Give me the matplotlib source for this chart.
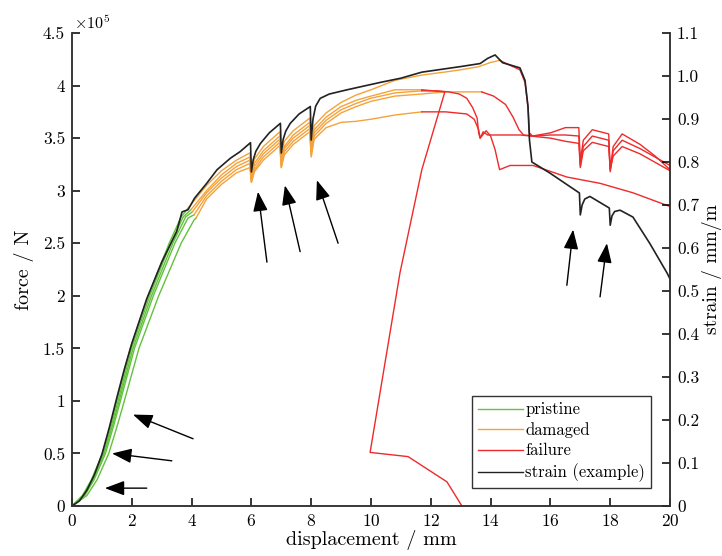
import matplotlib
matplotlib.use("Agg")
import matplotlib.pyplot as plt
from matplotlib.lines import Line2D
from matplotlib.ticker import FuncFormatter, MultipleLocator

plt.rcParams['font.family'] = 'cmr10'
plt.rcParams['mathtext.fontset'] = 'cm'
plt.rcParams['axes.formatter.use_mathtext'] = True

# colours
c_green = '#62c23e'
c_orange = '#f5a23a'
c_red = '#ee2a2a'
c_black = '#222222'

# pristine (force in 1e5 N)
g1_x = [0, 0.35, 0.65, 1.02, 1.27, 1.5, 1.95, 2.55, 3.25, 3.65, 3.9]
g1_f = [0, 0.1, 0.25, 0.5, 0.75, 1.0, 1.5, 2.0, 2.5, 2.75, 2.84]
g2_x = [0, 0.37, 0.68, 1.05, 1.3, 1.54, 1.99, 2.6, 3.3, 3.72, 3.98]
g2_f = [0, 0.1, 0.25, 0.5, 0.75, 1.0, 1.5, 2.0, 2.5, 2.75, 2.82]
g3_x = [0, 0.4, 0.71, 1.08, 1.34, 1.58, 2.04, 2.66, 3.37, 3.8, 4.03]
g3_f = [0, 0.1, 0.25, 0.5, 0.75, 1.0, 1.5, 2.0, 2.5, 2.75, 2.80]
g4_x = [0, 0.43, 0.74, 1.12, 1.38, 1.62, 2.09, 2.72, 3.44, 3.88, 4.08]
g4_f = [0, 0.1, 0.25, 0.5, 0.75, 1.0, 1.5, 2.0, 2.5, 2.74, 2.77]
g5_x = [0, 0.5, 0.84, 1.23, 1.5, 1.75, 2.24, 2.9, 3.65, 4.08, 4.15]
g5_f = [0, 0.1, 0.25, 0.5, 0.75, 1.0, 1.5, 2.0, 2.5, 2.72, 2.74]

# damaged
dmg_x = [4.5, 5.0, 5.5, 5.95, 6.0, 6.1, 6.4, 6.95, 7.0, 7.1, 7.4, 7.95, 8.0, 8.1,
         8.5, 9.0, 9.5, 10.0, 10.8, 11.7]
dmg_e = [3.05, 3.19, 3.29, 3.36, 3.15, 3.30, 3.42, 3.56, 3.30, 3.47, 3.57, 3.69, 3.42, 3.62,
         3.74, 3.84, 3.91, 3.96, 4.05, 4.10]
dmg_a = [3.00, 3.15, 3.26, 3.32, 3.10, 3.26, 3.38, 3.52, 3.26, 3.42, 3.53, 3.65, 3.38, 3.58,
         3.70, 3.80, 3.86, 3.90, 3.96, 3.96]
dmg_b = [2.98, 3.12, 3.23, 3.29, 3.10, 3.23, 3.35, 3.49, 3.24, 3.40, 3.50, 3.62, 3.36, 3.55,
         3.67, 3.77, 3.83, 3.88, 3.93, 3.95]
dmg_c = [2.95, 3.09, 3.20, 3.26, 3.08, 3.20, 3.32, 3.46, 3.22, 3.37, 3.47, 3.59, 3.34, 3.52,
         3.64, 3.74, 3.80, 3.85, 3.90, 3.92]
dmg_d = [2.92, 3.06, 3.17, 3.22, 3.08, 3.18, 3.29, 3.43, 3.22, 3.34, 3.44, 3.56, 3.32, 3.49,
         3.60, 3.65, 3.66, 3.68, 3.72, 3.75]
dmg_e_tail_x = [12.5, 13.0, 13.6, 14.0, 14.3]
dmg_e_tail_f = [4.13, 4.15, 4.18, 4.22, 4.24]
dmg_c_tail_x = [12.5, 13.0, 13.7]
dmg_c_tail_f = [3.94, 3.94, 3.94]

# failure
fail_e_x = [14.3, 14.6, 14.98, 15.15, 15.25, 15.3, 15.4, 16.0, 16.5, 16.95, 17.0, 17.1, 17.4,
            17.95, 18.0, 18.1, 18.4, 19.0, 19.5, 20.0]
fail_e_f = [4.24, 4.2, 4.15, 4.03, 3.8, 3.55, 3.52, 3.55, 3.6, 3.6, 3.28, 3.48, 3.58,
            3.54, 3.2, 3.42, 3.54, 3.44, 3.33, 3.2]
fail_c_x = [13.7, 14.1, 14.5, 14.75, 14.95, 15.1, 15.5, 16.0, 16.5, 16.95, 17.0, 17.1, 17.4,
            17.95, 18.0, 18.1, 18.4, 19.0, 19.5, 20.0]
fail_c_f = [3.94, 3.9, 3.82, 3.7, 3.58, 3.53, 3.52, 3.53, 3.53, 3.52, 3.24, 3.42, 3.52,
            3.48, 3.18, 3.38, 3.48, 3.4, 3.32, 3.24]
fail_d_x = [11.7, 12.5, 13.2, 13.45, 13.6, 13.65, 13.75, 13.9, 14.2, 15.0, 16.0, 16.5, 16.95,
            17.0, 17.1, 17.4, 17.95, 18.0, 18.1, 18.4, 19.0, 19.5, 20.0]
fail_d_f = [3.75, 3.75, 3.73, 3.68, 3.58, 3.5, 3.56, 3.53, 3.53, 3.53, 3.5, 3.47, 3.45,
            3.22, 3.38, 3.46, 3.42, 3.2, 3.33, 3.42, 3.35, 3.27, 3.19]
fail_b_x = [11.7, 12.2, 12.6, 12.95, 13.2, 13.4, 13.55, 13.6, 13.65, 13.85, 14.0, 14.15, 14.3,
            14.65, 15.42, 16.55, 17.66, 18.76, 19.9, 20.0]
fail_b_f = [3.95, 3.95, 3.94, 3.92, 3.88, 3.79, 3.69, 3.55, 3.5, 3.57, 3.52, 3.39, 3.2,
            3.24, 3.24, 3.13, 3.07, 2.98, 2.86, 2.85]
fail_a_x = [11.7, 12.47, 11.7, 10.97, 9.97, 11.24, 12.54, 13.04]
fail_a_f = [3.96, 3.94, 3.2, 2.22, 0.51, 0.47, 0.23, 0.0]

# strain (mm/m, right axis)
strain_x = [0, 0.25, 0.5, 0.75, 1.0, 1.25, 1.5, 1.75, 2.0, 2.5, 3.0, 3.5, 3.68, 3.88, 4.1,
            4.5, 4.85, 5.3, 5.62, 5.97, 6.0, 6.06, 6.15, 6.3, 6.6, 6.97, 7.0, 7.06, 7.15,
            7.3, 7.6, 7.97, 8.0, 8.06, 8.15, 8.3, 8.6, 9.2, 10.3, 11.0, 11.7, 12.5, 13.0,
            13.65, 13.9, 14.15, 14.4, 14.98, 15.15, 15.25, 15.3, 15.38, 15.99, 16.5, 16.97,
            17.0, 17.06, 17.15, 17.32, 17.97, 18.0, 18.06, 18.15, 18.33, 18.76, 19.33, 19.9, 20.0]
strain_y = [0, 0.012, 0.037, 0.073, 0.12, 0.183, 0.252, 0.318, 0.378, 0.482, 0.567, 0.638,
            0.684, 0.689, 0.716, 0.75, 0.782, 0.809, 0.824, 0.845, 0.777, 0.805, 0.825, 0.843,
            0.868, 0.89, 0.821, 0.852, 0.872, 0.89, 0.912, 0.929, 0.851, 0.9, 0.93, 0.948,
            0.958, 0.968, 0.985, 0.995, 1.009, 1.017, 1.022, 1.029, 1.041, 1.049, 1.031, 1.019,
            0.99, 0.929, 0.851, 0.80, 0.774, 0.75, 0.728, 0.677, 0.70, 0.714, 0.72, 0.693,
            0.653, 0.675, 0.685, 0.688, 0.672, 0.61, 0.542, 0.528]

# arrows (tail, head) in displacement / force units
arrows = [((4.05, 0.64), (2.04, 0.87)),
          ((3.34, 0.43), (1.34, 0.50)),
          ((2.5, 0.17), (1.1, 0.17)),
          ((6.52, 2.32), (6.22, 2.99)),
          ((7.63, 2.42), (7.12, 3.05)),
          ((8.9, 2.5), (8.19, 3.10)),
          ((16.55, 2.1), (16.76, 2.63)),
          ((17.66, 1.99), (17.89, 2.50))]

fig = plt.figure(figsize=(7.22, 5.56), dpi=100)
ax = fig.add_axes([0.0997, 0.0899, 0.8283, 0.8507])
lw = 1.0

for gx, gf in [(g1_x, g1_f), (g2_x, g2_f), (g3_x, g3_f), (g4_x, g4_f), (g5_x, g5_f)]:
    ax.plot(gx, gf, color=c_green, lw=lw)

ax.plot([g1_x[-1]] + dmg_x + dmg_e_tail_x, [g1_f[-1]] + dmg_e + dmg_e_tail_f, color=c_orange, lw=lw)
ax.plot([g2_x[-1]] + dmg_x, [g2_f[-1]] + dmg_a, color=c_orange, lw=lw)
ax.plot([g3_x[-1]] + dmg_x, [g3_f[-1]] + dmg_b, color=c_orange, lw=lw)
ax.plot([g4_x[-1]] + dmg_x + dmg_c_tail_x, [g4_f[-1]] + dmg_c + dmg_c_tail_f, color=c_orange, lw=lw)
ax.plot([g5_x[-1]] + dmg_x, [g5_f[-1]] + dmg_d, color=c_orange, lw=lw)

for fx, ff in [(fail_e_x, fail_e_f), (fail_c_x, fail_c_f), (fail_d_x, fail_d_f),
               (fail_b_x, fail_b_f), (fail_a_x, fail_a_f)]:
    ax.plot(fx, ff, color=c_red, lw=lw)

for tail, head in arrows:
    ax.annotate('', xy=head, xytext=tail,
                arrowprops=dict(arrowstyle='-|>,head_length=1.2,head_width=0.45',
                                color='k', lw=1.0, shrinkA=0, shrinkB=0))

ax.set_xlim(0, 20)
ax.set_ylim(0, 4.5)
ax.xaxis.set_major_locator(MultipleLocator(2))
ax.yaxis.set_major_locator(MultipleLocator(0.5))
ax.yaxis.set_major_formatter(FuncFormatter(lambda v, p: ('%g' % v)))
ax.spines['top'].set_visible(False)
ax.tick_params(direction='in', length=6, width=1.1, labelsize=12.5, top=False, pad=5)
ax.set_xlabel('displacement / mm', fontsize=14.5, labelpad=1)
ax.set_ylabel('force / N', fontsize=14.5, labelpad=6)
ax.text(0.003, 1.003, r'$\times10^5$', transform=ax.transAxes, ha='left', va='bottom',
        fontsize=11.5)

ax2 = ax.twinx()
ax2.plot(strain_x, strain_y, color=c_black, lw=1.2)
ax2.set_ylim(0, 1.1)
ax2.yaxis.set_major_locator(MultipleLocator(0.1))
ax2.yaxis.set_major_formatter(FuncFormatter(lambda v, p: '0' if abs(v) < 1e-9 else '%.1f' % v))
ax2.spines['top'].set_visible(False)
ax2.tick_params(direction='in', length=6, width=1.1, labelsize=12.5, pad=5)
ax2.set_ylabel('strain / mm/m', fontsize=14, labelpad=2)
for a in (ax, ax2):
    for s in a.spines.values():
        s.set_linewidth(1.1)
        s.set_color('#333333')

handles = [Line2D([], [], color=c_green, lw=lw), Line2D([], [], color=c_orange, lw=lw),
           Line2D([], [], color=c_red, lw=lw), Line2D([], [], color=c_black, lw=lw)]
leg = ax2.legend(handles, ['pristine', 'damaged', 'failure', 'strain (example)'],
                 loc='lower right', bbox_to_anchor=(0.968, 0.038), fontsize=12,
                 fancybox=False, framealpha=1, edgecolor='#333333', handlelength=2.7,
                 handletextpad=0.15, borderpad=0.35, labelspacing=0.3, borderaxespad=0)
leg.get_frame().set_linewidth(1.0)

fig.savefig('out.png', dpi=100)
